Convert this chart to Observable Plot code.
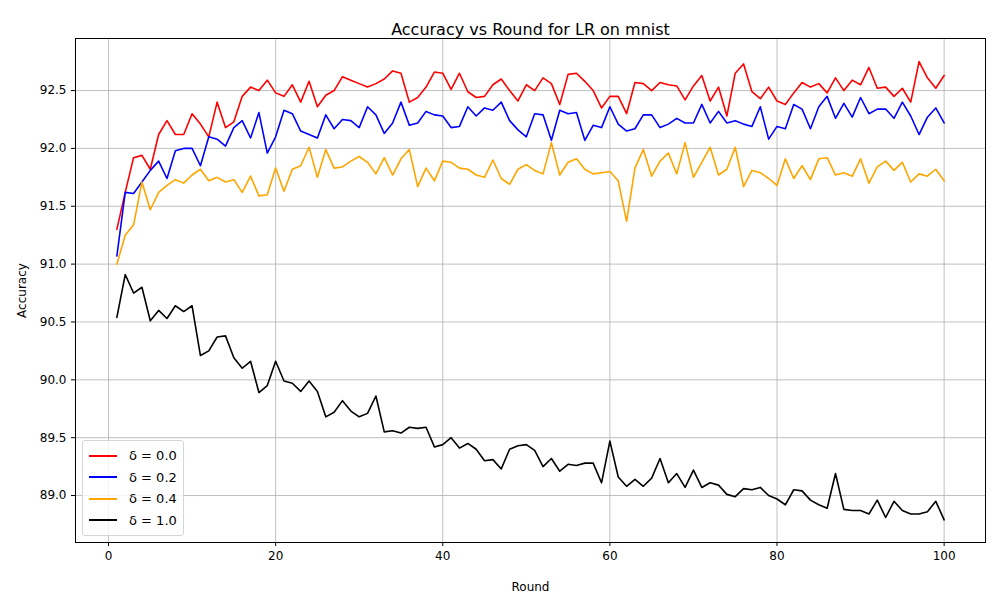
<!DOCTYPE html>
<html>
<head>
<meta charset="utf-8">
<script src="https://cdn.jsdelivr.net/npm/d3@7"></script>
<script src="https://cdn.jsdelivr.net/npm/@observablehq/plot@0.6"></script>
<style>
  body { margin: 0; background: #fff; font-family: "DejaVu Sans", sans-serif; }
  #wrap { position: relative; width: 1000px; height: 600px; }
  #legend { position: absolute; left: 82px; top: 440px; width: 100px; padding: 4px 0;
    border: 1px solid #d6d6d6; border-radius: 3px; background: rgba(255,255,255,0.8); font-size: 13px; }
  #legend div { display: flex; align-items: center; height: 21.5px; }
  #legend span.sw { display: inline-block; width: 28px; height: 2px; margin: 0 12px 0 6px; }
</style>
</head>
<body>
<div id="wrap"><div id="chart"></div><div id="legend"></div></div>
<script>
const labels = ["δ = 0.0", "δ = 0.2", "δ = 0.4", "δ = 1.0"];
const colors = ["red", "blue", "orange", "black"];
const xTicks = [0, 20, 40, 60, 80, 100];
const yTicks = [89.0, 89.5, 90.0, 90.5, 91.0, 91.5, 92.0, 92.5];

const d00 = [91.30,91.62,91.92,91.94,91.82,92.12,92.24,92.12,92.12,92.30,92.21,92.10,92.40,92.18,92.23,92.45,92.53,92.50,92.59,92.48,
92.45,92.55,92.40,92.58,92.36,92.46,92.50,92.62,92.59,92.56,92.53,92.56,92.60,92.67,92.65,92.40,92.44,92.53,92.66,92.65,
92.51,92.65,92.49,92.44,92.45,92.55,92.60,92.50,92.41,92.55,92.50,92.61,92.56,92.38,92.64,92.65,92.58,92.50,92.35,92.45,
92.45,92.30,92.57,92.56,92.50,92.57,92.55,92.54,92.42,92.54,92.63,92.41,92.53,92.28,92.65,92.73,92.49,92.43,92.53,92.41,
92.38,92.48,92.57,92.53,92.56,92.48,92.61,92.50,92.59,92.55,92.70,92.52,92.53,92.45,92.52,92.40,92.75,92.61,92.52,92.63];
const d02 = [91.07,91.62,91.61,91.71,91.81,91.89,91.74,91.98,92.00,92.00,91.85,92.10,92.08,92.02,92.18,92.24,92.09,92.31,91.96,92.10,
92.33,92.30,92.15,92.12,92.09,92.29,92.17,92.25,92.24,92.18,92.36,92.29,92.13,92.22,92.40,92.20,92.22,92.32,92.29,92.28,
92.18,92.19,92.36,92.28,92.35,92.33,92.40,92.24,92.16,92.10,92.30,92.29,92.07,92.33,92.30,92.31,92.07,92.20,92.18,92.36,
92.21,92.15,92.17,92.29,92.29,92.18,92.21,92.26,92.22,92.22,92.38,92.22,92.32,92.22,92.24,92.21,92.19,92.36,92.08,92.19,
92.17,92.38,92.34,92.17,92.36,92.45,92.26,92.39,92.27,92.44,92.30,92.34,92.34,92.26,92.40,92.28,92.12,92.27,92.35,92.22];
const d04 = [91.00,91.25,91.34,91.71,91.47,91.62,91.68,91.73,91.70,91.77,91.82,91.72,91.75,91.71,91.73,91.62,91.76,91.59,91.60,91.83,
91.63,91.82,91.85,92.01,91.75,91.99,91.83,91.84,91.89,91.93,91.88,91.78,91.92,91.77,91.91,91.99,91.67,91.83,91.72,91.89,
91.88,91.83,91.82,91.77,91.75,91.90,91.74,91.69,91.82,91.86,91.81,91.78,92.05,91.77,91.88,91.91,91.82,91.78,91.79,91.80,
91.72,91.37,91.83,91.99,91.76,91.89,91.96,91.78,92.05,91.75,91.88,92.01,91.77,91.82,92.01,91.67,91.81,91.79,91.74,91.68,
91.91,91.74,91.85,91.73,91.91,91.92,91.77,91.79,91.76,91.91,91.70,91.84,91.89,91.81,91.88,91.71,91.78,91.76,91.82,91.72];
const d10 = [90.54,90.91,90.75,90.80,90.51,90.60,90.53,90.64,90.59,90.64,90.21,90.25,90.37,90.38,90.19,90.10,90.16,89.89,89.95,90.16,
89.99,89.97,89.90,89.99,89.90,89.68,89.72,89.82,89.73,89.68,89.71,89.86,89.55,89.56,89.54,89.59,89.58,89.59,89.42,89.44,
89.50,89.41,89.45,89.40,89.30,89.31,89.23,89.40,89.43,89.44,89.39,89.25,89.32,89.21,89.27,89.26,89.28,89.28,89.11,89.47,
89.16,89.08,89.14,89.08,89.15,89.32,89.11,89.19,89.07,89.22,89.07,89.11,89.09,89.01,88.99,89.06,89.05,89.07,89.00,88.97,
88.92,89.05,89.04,88.96,88.92,88.89,89.19,88.88,88.87,88.87,88.84,88.96,88.81,88.95,88.87,88.84,88.84,88.86,88.95,88.79];

const series = [d00, d02, d04, d10];
const rows = series.flatMap((vals, s) => vals.map((v, i) => ({round: i + 1, acc: v, s: labels[s]})));

const plot = Plot.plot({
  width: 1000, height: 600,
  marginLeft: 75, marginRight: 15, marginTop: 38, marginBottom: 58,
  style: {fontFamily: "DejaVu Sans, sans-serif", fontSize: "12px", color: "black"},
  x: {domain: [-3.95, 104.95], ticks: xTicks, tickSize: 4, label: "Round", labelAnchor: "center", labelArrow: "none", labelOffset: 48},
  y: {domain: [88.594, 92.95], ticks: yTicks, tickFormat: ".1f", tickSize: 4, label: "Accuracy", labelAnchor: "center", labelArrow: "none", labelOffset: 58},
  color: {domain: labels, range: colors},
  marks: [
    Plot.gridX(xTicks, {stroke: "#b0b0b0", strokeOpacity: 1, strokeWidth: 0.8}),
    Plot.gridY(yTicks, {stroke: "#b0b0b0", strokeOpacity: 1, strokeWidth: 0.8}),
    Plot.line(rows, {x: "round", y: "acc", z: "s", stroke: "s", strokeWidth: 1.6}),
    Plot.frame({stroke: "black"}),
    Plot.text(["Accuracy vs Round for LR on mnist"], {frameAnchor: "top", dy: -15, fontSize: 16, fill: "black"})
  ]
});
document.getElementById("chart").appendChild(plot);

const legend = document.getElementById("legend");
labels.forEach((l, i) => {
  const row = document.createElement("div");
  row.innerHTML = `<span class="sw" style="background:${colors[i]}"></span>${l}`;
  legend.appendChild(row);
});
</script>
</body>
</html>
